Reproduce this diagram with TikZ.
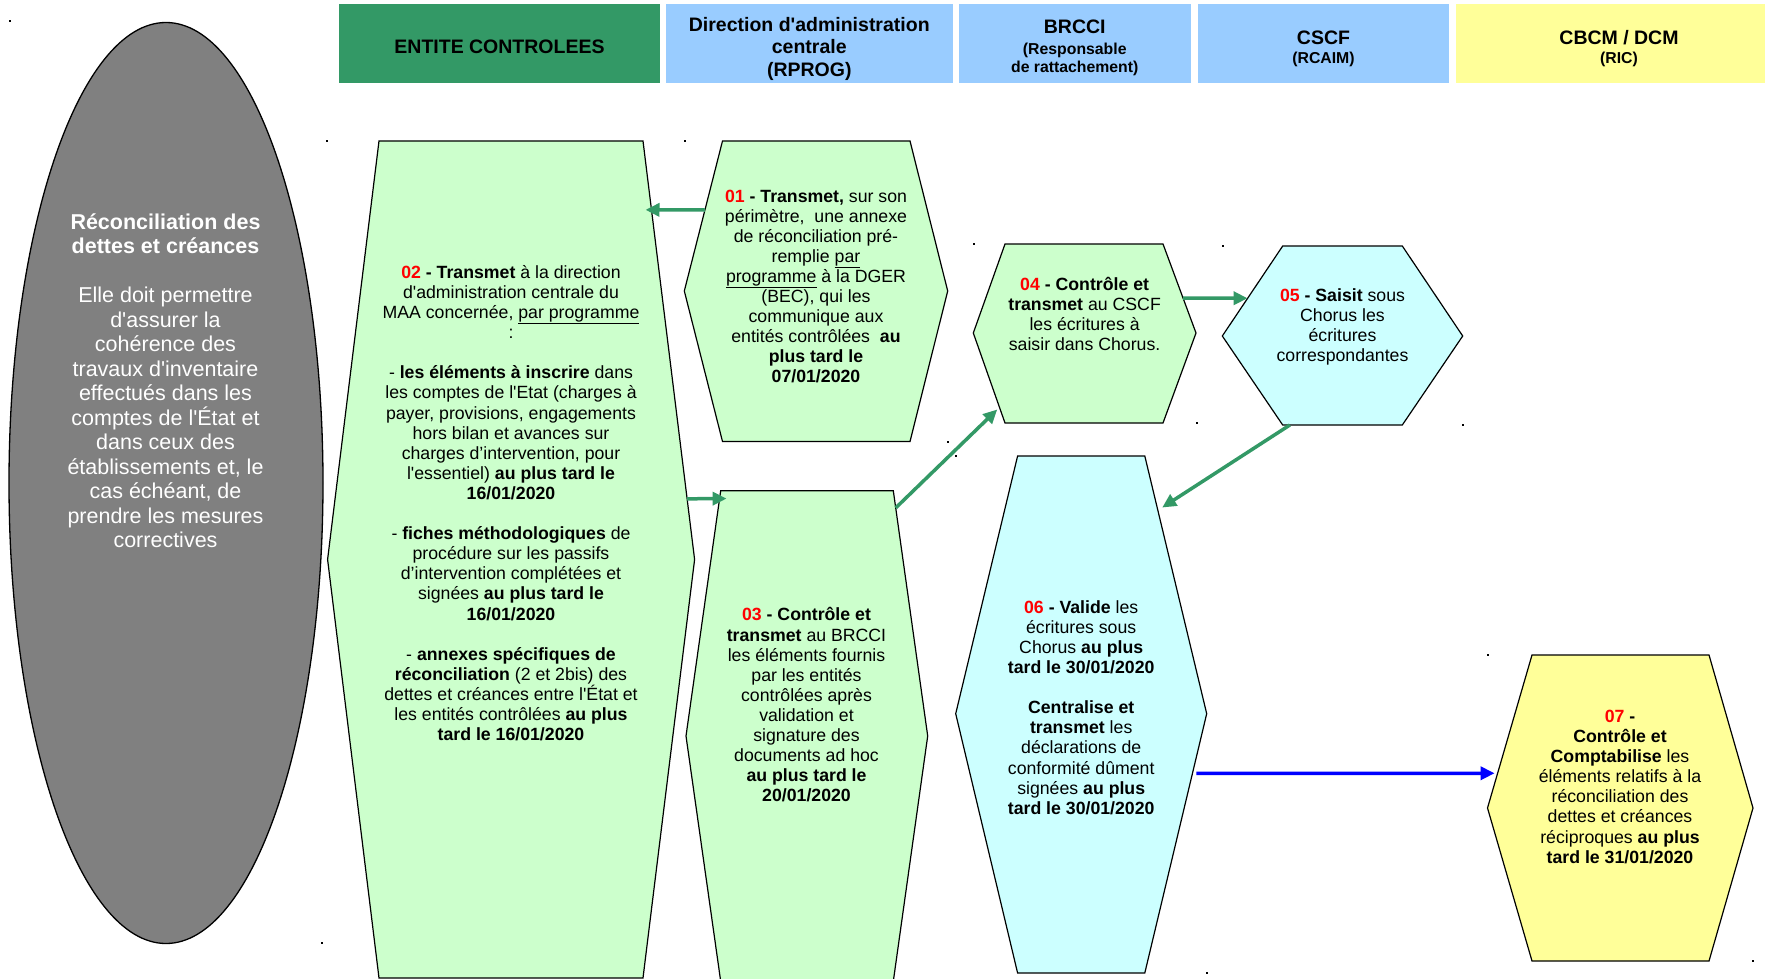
\documentclass[tikz,border=0pt]{standalone}
\usepackage{fontspec}
\setmainfont{Liberation Sans}[Ligatures=TeXOff]
\usepackage{tikz}
\usetikzlibrary{arrows.meta, calc}

\definecolor{headgreen}{HTML}{339966}
\definecolor{headblue}{HTML}{99CCFF}
\definecolor{headyellow}{HTML}{FFFF99}
\definecolor{boxgreen}{HTML}{CCFFCC}
\definecolor{boxcyan}{HTML}{CCFFFF}
\definecolor{boxyellow}{HTML}{FFFF99}
\definecolor{numred}{HTML}{FF0000}
\definecolor{ovalgrey}{HTML}{808080}

\newcommand{\stepno}[1]{\textcolor{numred}{\textbf{#1}}}
\newcommand{\subhead}{\fontsize{15.8}{18}\selectfont}

\begin{document}
\begin{tikzpicture}[x=1pt, y=-1pt,
    headbox/.style={inner sep=0pt, minimum height=79pt},
    head/.style={inner sep=0pt, align=center, font=\bfseries\fontsize{19.5}{22.5}\selectfont},
    hexa/.style={draw=black, line width=1.2pt, line join=miter},
    txt/.style={align=center, inner sep=0pt, font=\fontsize{17.7}{20.1}\selectfont},
    flow/.style={line width=3.5pt, draw=headgreen, -{Triangle[length=14pt, width=13pt]}}]
        % Page frame
        \useasboundingbox (0,0) rectangle (1765,979);
        \clip (0,0) rectangle (1765,979);
        \fill[white] (0,0) rectangle (1765,979);

        % Column headers
        \node[headbox, fill=headgreen, minimum width=321pt] (hEntite) at (499.5,44) {};
        \node[headbox, fill=headblue, minimum width=286.5pt] (hDac) at (809.25,44) {};
        \node[headbox, fill=headblue, minimum width=231.5pt] (hBrcci) at (1074.75,44) {};
        \node[headbox, fill=headblue, minimum width=251pt] (hCscf) at (1323.5,44) {};
        \node[headbox, fill=headyellow, minimum width=326pt] (hCbcm) at (1619,44) {};
        \node[head] (hEntiteTxt) at ($(hEntite)+(0,2.3)$) {ENTITE CONTROLEES};
        \node[head] (hDacTxt) at ($(hDac)+(0,4.5)$) {Direction d'administration\\centrale\\(RPROG)};
        \node[head] (hBrcciTxt) at ($(hBrcci)+(0,4)$) {BRCCI\\[-2pt]{\subhead (Responsable}\\[-4.5pt]{\subhead de rattachement)}};
        \node[head] (hCscfTxt) at ($(hCscf)+(0,4.5)$) {CSCF\\[-3.2pt]{\subhead (RCAIM)}};
        \node[head] (hCbcmTxt) at ($(hCbcm)+(0,4.8)$) {CBCM / DCM\\[-3.2pt]{\subhead (RIC)}};

        % Grey oval on the left
        \draw[line width=1.3pt, fill=ovalgrey] (166,483) ellipse (157pt and 460.5pt);
        \node[txt, text=white, font=\fontsize{21.5}{24.5}\selectfont] (summary) at (165.5,380.5) {\textbf{Réconciliation des}\\\textbf{dettes et créances}\\[24.5pt]Elle doit permettre\\d'assurer la\\cohérence des\\travaux d'inventaire\\effectués dans les\\comptes de l'État et\\dans ceux des\\établissements et, le\\cas échéant, de\\prendre les mesures\\correctives};

        % Hexagons
        \draw[hexa, fill=boxgreen] (379,141) -- (643,141) coordinate (h02-tr) -- (694.6,559.5) coordinate (h02-r) -- (643,978) -- (379,978) -- (327.6,559.5) -- cycle;
        \draw[hexa, fill=boxgreen] (722.5,141) coordinate (h01-tl) -- (910,141) -- (947.7,291) -- (910,441.5) -- (722.5,441.5) -- (684.3,291) coordinate (h01-l) -- cycle;
        \draw[hexa, fill=boxgreen] (720.7,490.7) coordinate (h03-tl) -- (893.3,490.7) coordinate (h03-tr) -- (927.7,736) coordinate (h03-r) -- (893.3,981.3) -- (720.7,981.3) -- (686,736) coordinate (h03-l) -- cycle;
        \draw[hexa, fill=boxgreen] (1005,244) -- (1163,244) coordinate (h04-tr) -- (1196,333) coordinate (h04-r) -- (1163,423) -- (1005,423) coordinate (h04-bl) -- (973.3,333) coordinate (h04-l) -- cycle;
        \draw[hexa, fill=boxcyan] (1282.7,246) coordinate (h05-tl) -- (1402.3,246) -- (1462.7,336) -- (1402.3,425) coordinate (h05-br) -- (1282.7,425) coordinate (h05-bl) -- (1222.3,336) coordinate (h05-l) -- cycle;
        \draw[hexa, fill=boxcyan] (1017.6,456) -- (1144.8,456) coordinate (h06-tr) -- (1206.7,713.7) coordinate (h06-r) -- (1144.8,973) coordinate (h06-br) -- (1017.6,973) -- (955.7,713.7) -- cycle;
        \draw[hexa, fill=boxyellow] (1532,655) coordinate (h07-tl) -- (1709,655) -- (1753,808) -- (1709,961) -- (1532,961) -- (1487.5,808) coordinate (h07-l) -- cycle;

        % Step texts
        \node[txt] (t01) at (816,286.5) {\stepno{01} \textbf{- Transmet,} sur son\\périmètre,~ une annexe\\de réconciliation pré-\\remplie \underline{par}\\\underline{programme} à la DGER\\(BEC), qui les\\communique aux\\entités contrôlées~ \textbf{au}\\\textbf{plus tard le}\\\textbf{07/01/2020}};
        \node[txt] (t02) at (511,503.2) {\stepno{02} \textbf{- Transmet} à la direction\\d'administration centrale du\\MAA concernée, \underline{par programme}\\:\\[20.1pt]- \textbf{les éléments à inscrire} dans\\les comptes de l'Etat (charges à\\payer, provisions, engagements\\hors bilan et avances sur\\charges d’intervention, pour\\l'essentiel) \textbf{au plus tard le}\\\textbf{16/01/2020}\\[20.1pt]- \textbf{fiches méthodologiques} de\\procédure sur les passifs\\d’intervention complétées et\\signées \textbf{au plus tard le}\\\textbf{16/01/2020}\\[20.1pt]- \textbf{annexes spécifiques de}\\\textbf{réconciliation} (2 et 2bis) des\\dettes et créances entre l'État et\\les entités contrôlées \textbf{au plus}\\\textbf{tard le 16/01/2020}};
        \node[txt] (t03) at (806.5,705) {\stepno{03} \textbf{- Contrôle et}\\\textbf{transmet} au BRCCI\\les éléments fournis\\par les entités\\contrôlées après\\validation et\\signature des\\documents ad hoc\\\textbf{au plus tard le}\\\textbf{20/01/2020}};
        \node[txt] (t04) at (1084.6,314) {\stepno{04} \textbf{- Contrôle et}\\\textbf{transmet} au CSCF\\les écritures à\\saisir dans Chorus.};
        \node[txt] (t05) at (1342.5,327) {\stepno{05} \textbf{- Saisit} sous\\Chorus les\\écritures\\correspondantes};
        \node[txt] (t06) at (1081.2,707.5) {\stepno{06} \textbf{- Valide} les\\écritures sous\\Chorus \textbf{au plus}\\\textbf{tard le 30/01/2020}\\[20.1pt]\textbf{Centralise et}\\\textbf{transmet} les\\déclarations de\\conformité dûment\\signées \textbf{au plus}\\\textbf{tard le 30/01/2020}};
        \node[txt] (t07) at (1620,786.8) {\stepno{07} \textbf{-}\\\textbf{Contrôle et}\\\textbf{Comptabilise} les\\éléments relatifs à la\\réconciliation des\\dettes et créances\\réciproques \textbf{au plus}\\\textbf{tard le 31/01/2020}};

        % Arrows between the steps
        \draw[flow] ($(h01-tl)!0.46!(h01-l)$) -- ($(h02-tr)!0.1645!(h02-r)+(-6,0)$);
        \draw[flow] ($(h02-tr)!0.855!(h02-r)$) -- ($(h03-tl)!0.032!(h03-l)+(7,0)$);
        \draw[flow] ($(h03-tr)!0.07!(h03-r)$) -- ($(h04-l)!0.85!(h04-bl)+(-3,0)$);
        \draw[flow] ($(h04-tr)!0.607!(h04-r)$) -- ($(h05-tl)!0.581!(h05-l)$);
        \draw[flow] ($(h05-bl)!0.06!(h05-br)$) -- ($(h06-tr)!0.2!(h06-r)+(5,0)$);
        \draw[flow, draw=blue] ($(h06-r)!0.23!(h06-br)+(4,0)$) -- ($(h07-tl)!0.773!(h07-l)+(-3,0)$);

        % Selection marks
        \foreach \x/\y in {9/20, 321/942, 326/140, 684/140, 947/441, 973/243, 1196/422, 1222/245, 1462/424, 955/455, 1206/972, 1487/654, 1752/960}
            \fill (\x,\y) rectangle ++(2,2);
\end{tikzpicture}
\end{document}
